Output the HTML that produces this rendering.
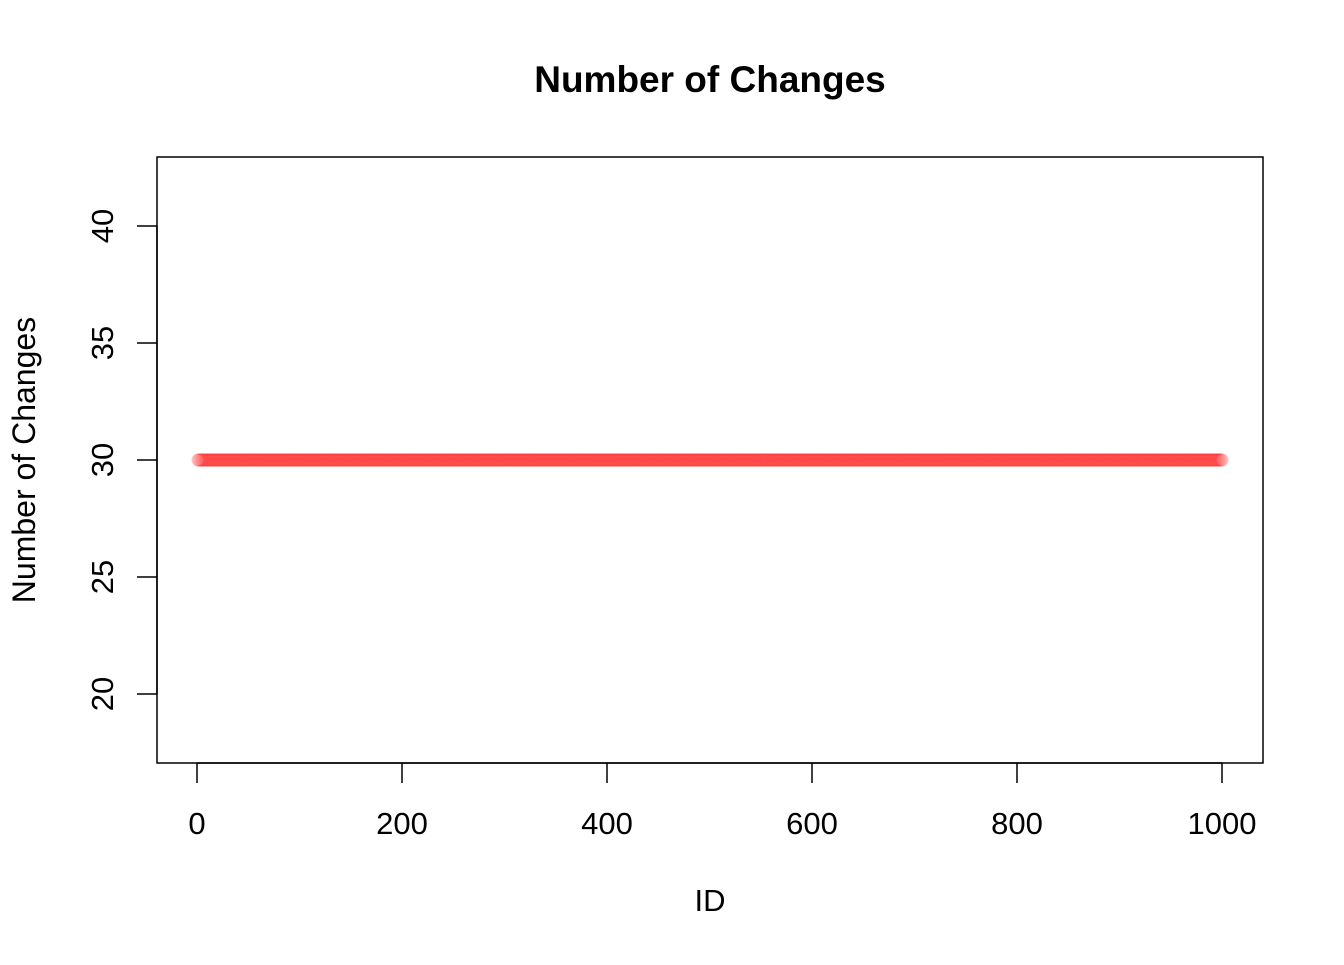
<!DOCTYPE html>
<html><head><meta charset="utf-8"><style>
body{margin:0;background:#fff}
svg text{font-family:"Liberation Sans",Arial,sans-serif}
</style></head><body>
<svg id="chart" width="1344" height="960" xmlns="http://www.w3.org/2000/svg">
<text x="710" y="92" text-anchor="middle" font-size="37" font-weight="bold">Number of Changes</text>
<rect x="157" y="157" width="1106" height="606" fill="none" stroke="#000" stroke-width="1.5"/>
<g id="xaxis"></g>
<g id="yaxis"></g>
<g id="points"></g>
<text x="710" y="911" text-anchor="middle" font-size="31">ID</text>
<text transform="translate(35,460) rotate(-90)" text-anchor="middle" font-size="32">Number of Changes</text>
</svg>
<script>
const xTicks=[0,200,400,600,800,1000];
const yTicks=[20,25,30,35,40];
const ids=[];for(let i=1;i<=1000;i++)ids.push(i);
const changes=ids.map(()=>30);
const NS="http://www.w3.org/2000/svg";
const sx=v=>197+(v-0)*(1222-197)/1000;
const sy=v=>460-(v-30)*(460-226)/10;
const xa=document.getElementById('xaxis'),ya=document.getElementById('yaxis'),pg=document.getElementById('points');
function mk(t,a,p){const e=document.createElementNS(NS,t);for(const k in a)e.setAttribute(k,a[k]);p.appendChild(e);return e;}
const xl=mk('line',{x1:sx(xTicks[0]),x2:sx(xTicks[xTicks.length-1]),y1:763,y2:763,stroke:'#000','stroke-width':1.5},xa);


xTicks.forEach(v=>{
 const l=mk('line',{x1:sx(v),x2:sx(v),y1:763,y2:783,stroke:'#000','stroke-width':1.5},xa);
 
 
 const t=mk('text',{x:sx(v),y:834,'text-anchor':'middle','font-size':31},xa);t.textContent=v;
 
 
});
const yl=mk('line',{x1:157,x2:157,y1:sy(yTicks[0]),y2:sy(yTicks[yTicks.length-1]),stroke:'#000','stroke-width':1.5},ya);


yTicks.forEach(v=>{
 const l=mk('line',{x1:137,x2:157,y1:sy(v),y2:sy(v),stroke:'#000','stroke-width':1.5},ya);
 
 
 const t=mk('text',{transform:`translate(113,${sy(v)}) rotate(-90)`,'text-anchor':'middle','font-size':31},ya);t.textContent=v;
 
 
});
ids.forEach((id,i)=>{
 const c=mk('circle',{cx:sx(id),cy:sy(changes[i]),r:6,fill:'rgba(255,0,0,0.06)',stroke:'rgba(255,0,0,0.15)','stroke-width':1.5},pg);
 
 
});
</script>
</body></html>
